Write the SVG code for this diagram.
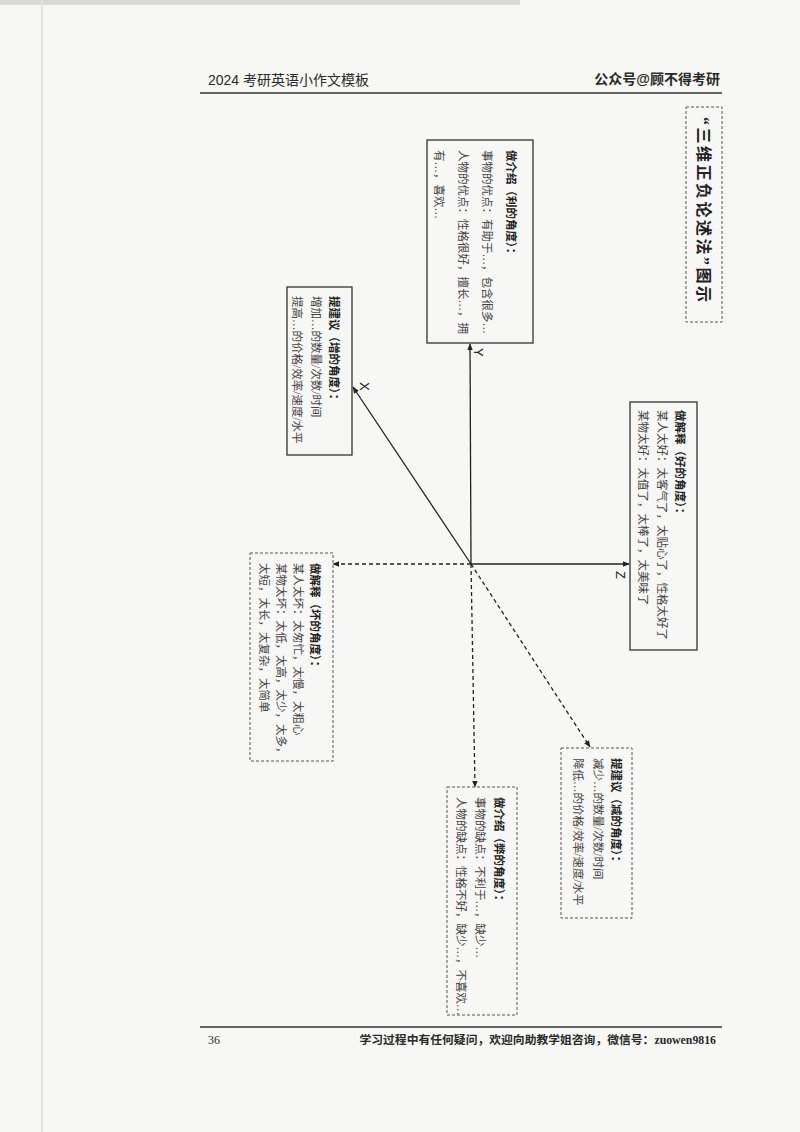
<svg xmlns="http://www.w3.org/2000/svg" width="800" height="1132" viewBox="0 0 800 1132">
<defs>
<marker id="arr" viewBox="0 0 10 10" refX="9" refY="5" markerWidth="7" markerHeight="7" markerUnits="userSpaceOnUse" orient="auto">
<path d="M0,1 L10,5 L0,9 Z" fill="#222"/>
</marker>
</defs>
<style>
.hd{font-family:"Liberation Sans","Noto Sans CJK SC",sans-serif;fill:#2a2a2a}
.bx{fill:none;stroke:#333;stroke-width:1.3}
.bxd{fill:none;stroke:#555;stroke-width:1;stroke-dasharray:3 2}
.t{font-family:"Liberation Serif","Noto Sans CJK SC",serif;font-size:11.5px;fill:#444}
.tb{font-family:"Liberation Serif","Noto Sans CJK SC",serif;font-size:11.5px;font-weight:bold;fill:#222}
.ttl{font-family:"Liberation Serif","Noto Sans CJK SC",serif;font-size:16px;font-weight:bold;fill:#222;letter-spacing:2.5px}
.ax{stroke:#222;stroke-width:1.3;fill:none}
.axd{stroke:#222;stroke-width:1.3;fill:none;stroke-dasharray:4 3}
.lb{font-family:"Liberation Sans","DejaVu Sans",sans-serif;font-size:13px;fill:#222}
</style>
<rect x="0" y="0" width="800" height="1132" fill="#f7f7f5"/>
<rect x="0" y="0" width="520" height="5" fill="#d9d9d7"/>
<line x1="42" y1="0" x2="42" y2="1132" stroke="#e2e2e0" stroke-width="2"/>

<g id="header">
<text class="hd" x="208" y="85" style="font-size:14px">2024 考研英语小作文模板</text>
<text class="hd" x="720" y="84" style="font-size:14px;font-weight:bold" text-anchor="end">公众号@顾不得考研</text>
<line x1="200" y1="93" x2="722" y2="93" stroke="#333" stroke-width="1.5"/>
</g>

<g id="title">
<rect class="bxd" x="686" y="107" width="36" height="215"/>
<g transform="translate(698,117) rotate(90)">
<text class="ttl" x="0" y="0">“三维正负论述法”图示</text>
</g>
</g>

<g id="connectors">
<line class="ax" x1="471" y1="564" x2="470" y2="344" marker-end="url(#arr)"/>
<line class="ax" x1="471" y1="564" x2="353" y2="387" marker-end="url(#arr)"/>
<line class="ax" x1="471" y1="564" x2="629" y2="564" marker-end="url(#arr)"/>
<line class="axd" x1="471" y1="564" x2="333" y2="564" marker-end="url(#arr)"/>
<line class="axd" x1="471" y1="564" x2="475" y2="787" marker-end="url(#arr)"/>
<line class="axd" x1="471" y1="564" x2="590" y2="747" marker-end="url(#arr)"/>
<g transform="translate(474,348) rotate(90)"><text class="lb" x="0" y="0">Y</text></g>
<g transform="translate(360,382) rotate(90)"><text class="lb" x="0" y="0">X</text></g>
<g transform="translate(616,571) rotate(90)"><text class="lb" x="0" y="0">Z</text></g>
</g>

<g id="box-y">
<rect class="bx" x="427" y="140" width="106" height="203"/>
<g transform="translate(507,150) rotate(90)">
<text class="tb" x="0" y="0">做介绍（利的角度）：</text>
<text class="t" x="0" y="24">事物的优点：有助于…，包含很多…</text>
<text class="t" x="0" y="48">人物的优点：性格很好，擅长…，拥</text>
<text class="t" x="0" y="72">有…，喜欢…</text>
</g>
</g>

<g id="box-x">
<rect class="bx" x="287" y="287" width="65" height="168"/>
<g transform="translate(330,296) rotate(90)">
<text class="tb" x="0" y="0">提建议（增的角度）：</text>
<text class="t" x="0" y="18.5">增加…的数量/次数/时间</text>
<text class="t" x="0" y="37">提高…的价格/效率/速度/水平</text>
</g>
</g>

<g id="box-z">
<rect class="bx" x="630" y="402" width="67" height="248"/>
<g transform="translate(676,410) rotate(90)">
<text class="tb" x="0" y="0">做解释（好的角度）：</text>
<text class="t" x="0" y="18.5">某人太好：太客气了，太贴心了，性格太好了</text>
<text class="t" x="0" y="37">某物太好：太值了，太棒了，太美味了</text>
</g>
</g>

<g id="box-xneg">
<rect class="bxd" x="250" y="553" width="83" height="208"/>
<g transform="translate(311,563) rotate(90)">
<text class="tb" x="0" y="0">做解释（坏的角度）：</text>
<text class="t" x="0" y="17">某人太坏：太匆忙，太慢，太粗心</text>
<text class="t" x="0" y="34">某物太坏：太低，太高，太少，太多，</text>
<text class="t" x="0" y="51">太短，太长，太复杂，太简单</text>
</g>
</g>

<g id="box-zneg">
<rect class="bxd" x="561" y="748" width="71" height="170"/>
<g transform="translate(612,758) rotate(90)">
<text class="tb" x="0" y="0">提建议（减的角度）：</text>
<text class="t" x="0" y="18">减少…的数量/次数/时间</text>
<text class="t" x="0" y="38">降低…的价格/效率/速度/水平</text>
</g>
</g>

<g id="box-yneg">
<rect class="bxd" x="447" y="787" width="70" height="228"/>
<g transform="translate(495,797) rotate(90)">
<text class="tb" x="0" y="0">做介绍（弊的角度）：</text>
<text class="t" x="0" y="19">事物的缺点：不利于…，缺少…</text>
<text class="t" x="0" y="38">人物的缺点：性格不好，缺少…，不喜欢…</text>
</g>
</g>

<g id="footer">
<line x1="200" y1="1027" x2="722" y2="1027" stroke="#333" stroke-width="1.5"/>
<text x="208" y="1044" font-family="Liberation Serif,serif" font-size="12" fill="#2a2a2a">36</text>
<text x="716" y="1044" font-family="Liberation Serif,'Noto Sans CJK SC',serif" font-size="11.8" font-weight="bold" fill="#2a2a2a" text-anchor="end">学习过程中有任何疑问，欢迎向助教学姐咨询，微信号：zuowen9816</text>
</g>
</svg>
